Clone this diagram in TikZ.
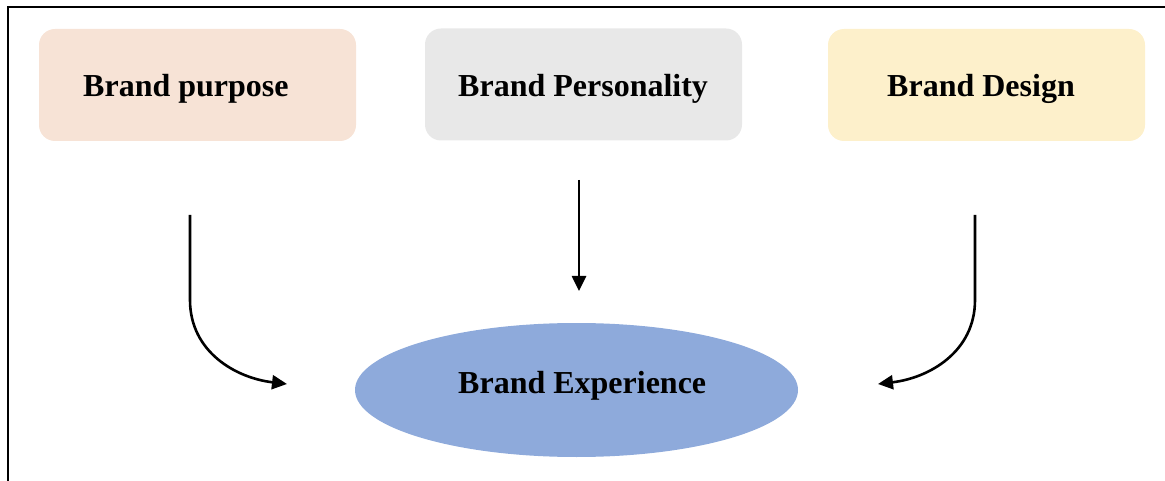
\documentclass[tikz,border=0pt]{standalone}
\usepackage{fontspec}
\setmainfont{Liberation Serif}
\usetikzlibrary{arrows.meta,shapes.geometric}
\definecolor{peach}{HTML}{F7E3D6}
\definecolor{lightgrey}{HTML}{E8E8E8}
\definecolor{cream}{HTML}{FDF0CB}
\definecolor{softblue}{HTML}{8EAADB}
\tikzset{
  labeltext/.style={font=\fontsize{32}{38}\selectfont\bfseries, text=black, inner sep=0pt, anchor=base west},
  pillar/.style={rounded corners=16pt, minimum width=317pt, minimum height=112pt, inner sep=0pt},
  flow/.style={line width=2.6pt, -{Triangle[length=15pt,width=14pt]}},
  frameline/.style={line width=1.8pt, black}
}
\begin{document}
\begin{tikzpicture}[x=1pt,y=-1pt]
  \useasboundingbox (0,0) rectangle (1165,481);
  % frame
  \draw[frameline] (8,481) -- (8,7) -- (1165,7);

  % the three pillars
  \node[pillar, fill=peach]     (purpose)     at (197.5,85)  {};
  \node[pillar, fill=lightgrey] (personality) at (583.5,84.5){};
  \node[pillar, fill=cream]     (design)      at (986.5,85)  {};
  \node[labeltext] (purposetext)     at (83,97)  {Brand purpose};
  \node[labeltext] (personalitytext) at (458,97) {Brand Personality};
  \node[labeltext] (designtext)      at (887,97) {Brand Design};

  % outcome
  \node[ellipse, fill=softblue, minimum width=443pt, minimum height=134pt, inner sep=0pt]
    (experience) at (576.5,390) {};
  \node[labeltext] (experiencetext) at (458,393) {Brand Experience};

  % connector end points
  \coordinate (lstart) at (190,215);
  \coordinate (lbend)  at (190,300);
  \coordinate (lend)   at (287,384);
  \coordinate (mstart) at (579,180);
  \coordinate (mend)   at (579,291);
  \coordinate (rstart) at (975,215);
  \coordinate (rbend)  at (975,300);
  \coordinate (rend)   at (878,384);

  % connectors
  \draw[flow] (lstart) -- (lbend) .. controls (190,352) and (236,378) .. (lend);
  \draw[flow] (mstart) -- (mend);
  \draw[flow] (rstart) -- (rbend) .. controls (975,352) and (929,378) .. (rend);
\end{tikzpicture}
\end{document}
